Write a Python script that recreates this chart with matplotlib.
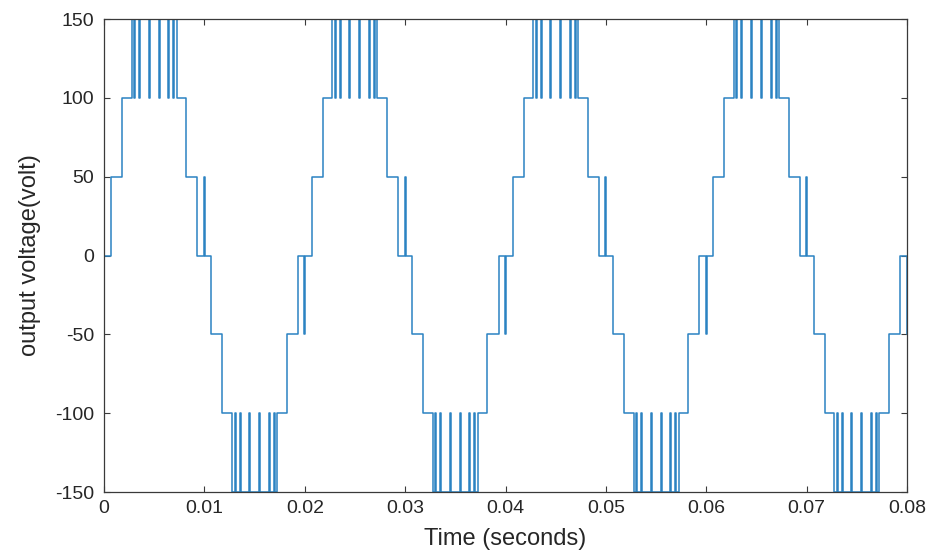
#!/usr/bin/env python3
"""Multilevel inverter output voltage, four 50 Hz cycles."""

import numpy as np

import matplotlib

matplotlib.use("Agg")
import matplotlib.pyplot as plt


# start of each 20 ms cycle (s)
cycle_start = [0.0, 0.02, 0.04, 0.06]

# switching instants inside one cycle (ms) and the level reached at each one (V)
period_t_ms = [
    0.05, 0.7, 1.8, 2.76, 3.0, 3.1, 3.5, 3.6, 4.45, 4.55, 5.45, 5.55, 6.4, 6.5, 6.9, 7.0, 7.24, 8.2, 9.3, 9.95, 10.05,
    10.7, 11.8, 12.76, 13.0, 13.1, 13.5, 13.6, 14.45, 14.55, 15.45, 15.55, 16.4, 16.5, 16.9, 17.0, 17.24, 18.2, 19.3, 19.95,
]
period_level = [
    0, 50, 100, 150, 100, 150, 100, 150, 100, 150, 100, 150, 100, 150, 100, 150, 100, 50, 0, 50, 0,
    -50, -100, -150, -100, -150, -100, -150, -100, -150, -100, -150, -100, -150, -100, -150, -100, -50, 0, -50,
]
start_level = 0
t_end = 0.08

x_ticks = [0, 0.01, 0.02, 0.03, 0.04, 0.05, 0.06, 0.07, 0.08]
x_tick_labels = ["0", "0.01", "0.02", "0.03", "0.04", "0.05", "0.06", "0.07", "0.08"]
y_ticks = [-150, -100, -50, 0, 50, 100, 150]
y_tick_labels = ["-150", "-100", "-50", "0", "50", "100", "150"]

LINE_COLOR = "#2b83c2"
TEXT_COLOR = "#262626"
AXIS_COLOR = "#3a3a3a"


def build_wave():
    t = [0.0]
    v = [start_level]
    for c in cycle_start:
        for ms, lvl in zip(period_t_ms, period_level):
            t.append(c + ms / 1000.0)
            v.append(lvl)
    t.append(t_end)
    v.append(v[-1])
    return np.array(t), np.array(v)


def main():
    plt.rcParams["font.family"] = ["Liberation Sans", "DejaVu Sans"]
    plt.rcParams["axes.unicode_minus"] = False
    fig = plt.figure(figsize=(9.33, 5.54), dpi=100)
    ax = fig.add_axes([0.1115, 0.1119, 0.8607, 0.8538])

    t, v = build_wave()
    ax.step(t, v, where="post", color=LINE_COLOR, linewidth=1.1)

    ax.set_xlim(0, 0.08)
    ax.set_ylim(-150, 150)
    ax.set_xticks(x_ticks)
    ax.set_xticklabels(x_tick_labels)
    ax.set_yticks(y_ticks)
    ax.set_yticklabels(y_tick_labels)

    ax.tick_params(direction="in", top=True, right=True, length=4, width=0.8,
                   colors=AXIS_COLOR, labelcolor=TEXT_COLOR, labelsize=14)
    ax.tick_params(axis="x", pad=6)
    ax.tick_params(axis="y", pad=7)
    for spine in ax.spines.values():
        spine.set_color(AXIS_COLOR)
        spine.set_linewidth(0.9)

    ax.set_xlabel("Time (seconds)", fontsize=17, color=TEXT_COLOR, labelpad=8)
    ax.set_ylabel("output voltage(volt)", fontsize=17, color=TEXT_COLOR, labelpad=10)

    fig.savefig("out.png", dpi=100)
    plt.close(fig)


if __name__ == "__main__":
    main()
